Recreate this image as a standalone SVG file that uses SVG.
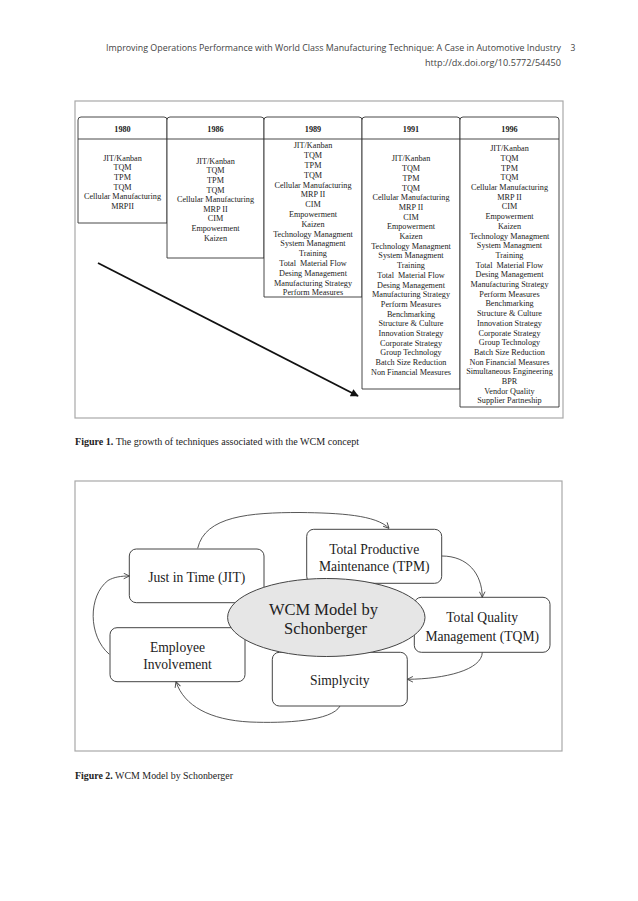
<svg xmlns="http://www.w3.org/2000/svg" width="638" height="901" viewBox="0 0 638 901">
<style>
.hdr{font-family:"Open Sans","DejaVu Sans",sans-serif;font-size:8.5px;fill:#444}
.frame{fill:none;stroke:#a8a8a8;stroke-width:1.2}
.col{fill:#fff;stroke:#333;stroke-width:0.9}
.yr{font-family:"Liberation Serif","Times New Roman",serif;font-size:8.2px;font-weight:bold;fill:#222;text-anchor:middle}
.it{font-family:"Liberation Serif","Times New Roman",serif;font-size:8.2px;fill:#222;text-anchor:middle}
.cap{font-family:"Liberation Serif","Times New Roman",serif;font-size:9.5px;fill:#222}
.box{fill:#fff;stroke:#444;stroke-width:1}
.lbl{font-family:"Liberation Serif","Times New Roman",serif;font-size:13.6px;fill:#222;text-anchor:middle}
.big{font-family:"Liberation Serif","Times New Roman",serif;font-size:16.5px;fill:#222;text-anchor:middle}
.con{fill:none;stroke:#444;stroke-width:0.9}
</style>
<defs>
<marker id="open" viewBox="0 0 10 10" refX="9" refY="5" markerWidth="7" markerHeight="7" orient="auto" markerUnits="userSpaceOnUse">
<path d="M1,1 L9,5 L1,9" fill="none" stroke="#444" stroke-width="1.3"/>
</marker>
<marker id="solid" viewBox="0 0 10 10" refX="9" refY="5" markerWidth="10" markerHeight="8" orient="auto" markerUnits="userSpaceOnUse">
<path d="M0,0 L10,5 L0,10 Z" fill="#111"/>
</marker>
</defs>
<rect width="638" height="901" fill="#fff"/>

<g id="header">
<text class="hdr" x="561" y="51" text-anchor="end" textLength="455" lengthAdjust="spacingAndGlyphs">Improving Operations Performance with World Class Manufacturing Technique: A Case in Automotive Industry</text>
<text class="hdr" x="573" y="51" text-anchor="middle">3</text>
<text class="hdr" x="561" y="66" text-anchor="end" textLength="136" lengthAdjust="spacingAndGlyphs">http://dx.doi.org/10.5772/54450</text>
</g>

<g id="figure1">
<rect class="frame" x="75" y="101" width="488" height="317"/>

<g id="col1980">
<path class="col" d="M78,223 V120 Q78,117 81,117 H164 Q167,117 167,120 V223 Z"/>
<line class="col" x1="78" y1="139" x2="167" y2="139"/>
<text class="yr" x="122.5" y="131.8">1980</text>
<text class="it" x="122.5" y="160.8">JIT/Kanban</text>
<text class="it" x="122.5" y="170.4">TQM</text>
<text class="it" x="122.5" y="180">TPM</text>
<text class="it" x="122.5" y="189.6">TQM</text>
<text class="it" x="122.5" y="199.2">Cellular Manufacturing</text>
<text class="it" x="122.5" y="208.8">MRPII</text>
</g>

<g id="col1986">
<path class="col" d="M167,258 V120 Q167,117 170,117 H261 Q264,117 264,120 V258 Z"/>
<line class="col" x1="167" y1="139" x2="264" y2="139"/>
<text class="yr" x="215.5" y="131.8">1986</text>
<text class="it" x="215.5" y="163.8">JIT/Kanban</text>
<text class="it" x="215.5" y="173.4">TQM</text>
<text class="it" x="215.5" y="183">TPM</text>
<text class="it" x="215.5" y="192.6">TQM</text>
<text class="it" x="215.5" y="202.2">Cellular Manufacturing</text>
<text class="it" x="215.5" y="211.8">MRP II</text>
<text class="it" x="215.5" y="221.4">CIM</text>
<text class="it" x="215.5" y="231">Empowerment</text>
<text class="it" x="215.5" y="240.6">Kaizen</text>
</g>

<g id="col1989">
<path class="col" d="M264,297 V120 Q264,117 267,117 H359 Q362,117 362,120 V297 Z"/>
<line class="col" x1="264" y1="139" x2="362" y2="139"/>
<text class="yr" x="313" y="131.8">1989</text>
<text class="it" x="313" y="148.3">JIT/Kanban</text>
<text class="it" x="313" y="158.1">TQM</text>
<text class="it" x="313" y="167.9">TPM</text>
<text class="it" x="313" y="177.7">TQM</text>
<text class="it" x="313" y="187.5">Cellular Manufacturing</text>
<text class="it" x="313" y="197.3">MRP II</text>
<text class="it" x="313" y="207.1">CIM</text>
<text class="it" x="313" y="216.9">Empowerment</text>
<text class="it" x="313" y="226.7">Kaizen</text>
<text class="it" x="313" y="236.5">Technology Managment</text>
<text class="it" x="313" y="246.3">System Managment</text>
<text class="it" x="313" y="256.1">Training</text>
<text class="it" x="313" y="265.9" xml:space="preserve">Total  Material Flow</text>
<text class="it" x="313" y="275.7">Desing Management</text>
<text class="it" x="313" y="285.5">Manufacturing Strategy</text>
<text class="it" x="313" y="295.3">Perform Measures</text>
</g>

<g id="col1991">
<path class="col" d="M362,389 V120 Q362,117 365,117 H457 Q460,117 460,120 V389 Z"/>
<line class="col" x1="362" y1="139" x2="460" y2="139"/>
<text class="yr" x="411" y="131.8">1991</text>
<text class="it" x="411" y="161.4">JIT/Kanban</text>
<text class="it" x="411" y="171.1">TQM</text>
<text class="it" x="411" y="180.8">TPM</text>
<text class="it" x="411" y="190.5">TQM</text>
<text class="it" x="411" y="200.2">Cellular Manufacturing</text>
<text class="it" x="411" y="209.9">MRP II</text>
<text class="it" x="411" y="219.6">CIM</text>
<text class="it" x="411" y="229.3">Empowerment</text>
<text class="it" x="411" y="239">Kaizen</text>
<text class="it" x="411" y="248.7">Technology Managment</text>
<text class="it" x="411" y="258.4">System Managment</text>
<text class="it" x="411" y="268.1">Training</text>
<text class="it" x="411" y="277.8" xml:space="preserve">Total  Material Flow</text>
<text class="it" x="411" y="287.5">Desing Management</text>
<text class="it" x="411" y="297.2">Manufacturing Strategy</text>
<text class="it" x="411" y="306.9">Perform Measures</text>
<text class="it" x="411" y="316.6">Benchmarking</text>
<text class="it" x="411" y="326.3">Structure &amp; Culture</text>
<text class="it" x="411" y="336">Innovation Strategy</text>
<text class="it" x="411" y="345.7">Corporate Strategy</text>
<text class="it" x="411" y="355.4">Group Technology</text>
<text class="it" x="411" y="365.1">Batch Size Reduction</text>
<text class="it" x="411" y="374.8">Non Financial Measures</text>
</g>

<g id="col1996">
<path class="col" d="M460,407 V120 Q460,117 463,117 H556 Q559,117 559,120 V407 Z"/>
<line class="col" x1="460" y1="139" x2="559" y2="139"/>
<text class="yr" x="509.5" y="131.8">1996</text>
<text class="it" x="509.5" y="151.2">JIT/Kanban</text>
<text class="it" x="509.5" y="160.9">TQM</text>
<text class="it" x="509.5" y="170.6">TPM</text>
<text class="it" x="509.5" y="180.3">TQM</text>
<text class="it" x="509.5" y="190">Cellular Manufacturing</text>
<text class="it" x="509.5" y="199.7">MRP II</text>
<text class="it" x="509.5" y="209.4">CIM</text>
<text class="it" x="509.5" y="219.1">Empowerment</text>
<text class="it" x="509.5" y="228.8">Kaizen</text>
<text class="it" x="509.5" y="238.5">Technology Managment</text>
<text class="it" x="509.5" y="248.2">System Managment</text>
<text class="it" x="509.5" y="257.9">Training</text>
<text class="it" x="509.5" y="267.6" xml:space="preserve">Total  Material Flow</text>
<text class="it" x="509.5" y="277.3">Desing Management</text>
<text class="it" x="509.5" y="287">Manufacturing Strategy</text>
<text class="it" x="509.5" y="296.7">Perform Measures</text>
<text class="it" x="509.5" y="306.4">Benchmarking</text>
<text class="it" x="509.5" y="316.1">Structure &amp; Culture</text>
<text class="it" x="509.5" y="325.8">Innovation Strategy</text>
<text class="it" x="509.5" y="335.5">Corporate Strategy</text>
<text class="it" x="509.5" y="345.2">Group Technology</text>
<text class="it" x="509.5" y="354.9">Batch Size Reduction</text>
<text class="it" x="509.5" y="364.6">Non Financial Measures</text>
<text class="it" x="509.5" y="374.3">Simultaneous Engineering</text>
<text class="it" x="509.5" y="384">BPR</text>
<text class="it" x="509.5" y="393.7">Vendor Quality</text>
<text class="it" x="509.5" y="403.4">Supplier Partneship</text>
</g>

<g id="fig1-connectors">
<line x1="98" y1="263" x2="358" y2="396" stroke="#111" stroke-width="1.8" marker-end="url(#solid)"/>
</g>

<text class="cap" x="75" y="444.5" textLength="284" lengthAdjust="spacingAndGlyphs"><tspan font-weight="bold">Figure 1.</tspan> The growth of techniques associated with the WCM concept</text>
</g>

<g id="figure2">
<rect class="frame" x="75" y="481" width="487" height="270"/>

<g id="jit">
<rect class="box" x="129.3" y="549" width="134.7" height="53.7" rx="7"/>
<text class="lbl" x="196.7" y="582.3">Just in Time (JIT)</text>
</g>
<g id="tpm">
<rect class="box" x="306.7" y="529.3" width="135" height="54" rx="7"/>
<text class="lbl" x="374.2" y="553.6">Total Productive</text>
<text class="lbl" x="374.2" y="570.6">Maintenance (TPM)</text>
</g>
<g id="tqm">
<rect class="box" x="414.3" y="597.3" width="135.7" height="55" rx="7"/>
<text class="lbl" x="482.2" y="622.3">Total Quality</text>
<text class="lbl" x="482.2" y="640.6">Management (TQM)</text>
</g>
<g id="simplicity">
<rect class="box" x="272.3" y="652.3" width="135" height="53.7" rx="7"/>
<text class="lbl" x="339.8" y="684.9">Simplycity</text>
</g>
<g id="employee">
<rect class="box" x="110" y="627.7" width="135" height="54" rx="7"/>
<text class="lbl" x="177.5" y="652.3">Employee</text>
<text class="lbl" x="177.5" y="668.9">Involvement</text>
</g>
<g id="wcm">
<ellipse cx="326.3" cy="617.5" rx="98.7" ry="39" fill="#e6e6e6" stroke="#444" stroke-width="1"/>
<text class="big" x="323.5" y="615">WCM Model by</text>
<text class="big" x="325.5" y="633.5">Schonberger</text>
</g>

<g id="fig2-connectors">
<path class="con" d="M197.7,548.3 C205,516 250,512.5 300,512.5 C340,513 376,515 389,528.3" marker-end="url(#open)"/>
<path class="con" d="M441.7,556 C468,556 482,574 482.3,597.3" marker-end="url(#open)"/>
<path class="con" d="M482.3,652.3 C482,670 445,679 407.3,679.3" marker-end="url(#open)"/>
<path class="con" d="M340,706 C332,721 285,723.5 250,722 C210,720 184,706 176,681.7" marker-end="url(#open)"/>
<path class="con" d="M109.3,654.3 C88,636 88,596 108,580.5 C114,577 121,576 129.3,576" marker-end="url(#open)"/>
</g>

<text class="cap" x="75" y="778.7" textLength="158" lengthAdjust="spacingAndGlyphs"><tspan font-weight="bold">Figure 2.</tspan> WCM Model by Schonberger</text>
</g>
</svg>
